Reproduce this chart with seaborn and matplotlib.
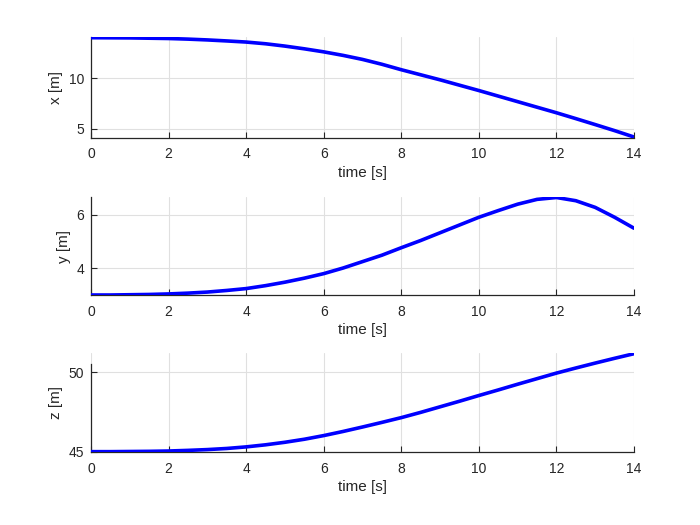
import matplotlib
matplotlib.use("Agg")
import matplotlib.pyplot as plt
import seaborn as sns
import pandas as pd

time_s = [0, 0.5, 1, 1.5, 2, 2.5, 3, 3.5, 4, 4.5, 5, 5.5, 6, 6.5, 7, 7.5, 8, 8.5, 9, 9.5,
          10, 10.5, 11, 11.5, 12, 12.5, 13, 13.5, 14]
x_m = [14.0, 13.99, 13.98, 13.95, 13.92, 13.86, 13.78, 13.68, 13.57, 13.4, 13.17, 12.9, 12.6,
       12.25, 11.85, 11.37, 10.83, 10.33, 9.83, 9.3, 8.77, 8.22, 7.67, 7.12, 6.57, 5.99, 5.4, 4.8, 4.17]
y_m = [3.0, 3.0, 3.01, 3.02, 3.04, 3.07, 3.11, 3.17, 3.24, 3.35, 3.48, 3.63, 3.8, 4.01, 4.25,
       4.49, 4.77, 5.04, 5.33, 5.62, 5.91, 6.16, 6.4, 6.58, 6.65, 6.53, 6.28, 5.91, 5.5]
z_m = [45.0, 45.0, 45.01, 45.02, 45.04, 45.08, 45.13, 45.2, 45.3, 45.43, 45.59, 45.78, 46.01,
       46.27, 46.55, 46.84, 47.14, 47.47, 47.82, 48.17, 48.53, 48.88, 49.24, 49.59, 49.94,
       50.26, 50.57, 50.87, 51.16]

ylabels = ["x [m]", "y [m]", "z [m]"]
yticks = [[5, 10], [4, 6], [45, 50]]
ylims = [(4.1, 14.1), (3.0, 6.66), (44.96, 51.2)]
spine_tops = [14.1, 6.66, 50.52]
xticks = [0, 2, 4, 6, 8, 10, 12, 14]

sns.set_style("white")
plt.rcParams["font.family"] = ["Liberation Sans", "DejaVu Sans"]

df = pd.DataFrame({"time": time_s, "x": x_m, "y": y_m, "z": z_m})

fig = plt.figure(figsize=(7, 5.25), dpi=100)
positions = [
    [0.13, 0.7377, 0.7757, 0.1924],
    [0.13, 0.4381, 0.7757, 0.1862],
    [0.13, 0.1385, 0.7757, 0.1890],
]
grey = "#262626"
for i, (col, pos) in enumerate(zip(["x", "y", "z"], positions)):
    ax = fig.add_axes(pos)
    sns.lineplot(data=df, x="time", y=col, ax=ax, color="red", linewidth=1.2, zorder=2)
    sns.lineplot(data=df, x="time", y=col, ax=ax, color="blue", linewidth=2.6, zorder=3)
    ax.set_xlim(0, 14)
    ax.set_ylim(*ylims[i])
    ax.set_xticks(xticks)
    ax.set_yticks(yticks[i])
    ax.grid(True, color="#e0e0e0", linewidth=0.8)
    ax.set_axisbelow(True)
    for s in ["top", "right"]:
        ax.spines[s].set_visible(False)
    for s in ["left", "bottom"]:
        ax.spines[s].set_color(grey)
        ax.spines[s].set_linewidth(0.9)
    ax.spines["left"].set_bounds(ylims[i][0], spine_tops[i])
    ax.tick_params(direction="in", length=4, width=0.8, colors=grey, labelsize=10,
                   left=True, bottom=True)
    ax.tick_params(axis="x", pad=7)
    ax.tick_params(axis="y", pad=5)
    ax.set_xlabel("time [s]", fontsize=11, color=grey, labelpad=3)
    ax.set_ylabel(ylabels[i], fontsize=11, color=grey, labelpad=4)

fig.savefig("out.png", dpi=100)
